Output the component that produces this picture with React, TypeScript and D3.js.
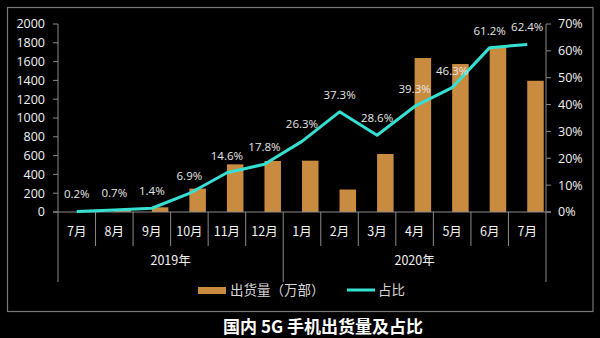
import React from "react";
import * as d3 from "d3";

const months = ["7月", "8月", "9月", "10月", "11月", "12月", "1月", "2月", "3月", "4月", "5月", "6月", "7月"];
const years = ["2019年", "2020年"];
const yearSpans = [6, 7];
const shipments = [5, 22, 50, 249, 507, 543, 546, 239, 617, 1638, 1574, 1751, 1396];
const shares = [0.2, 0.7, 1.4, 6.9, 14.6, 17.8, 26.3, 37.3, 28.6, 39.3, 46.3, 61.2, 62.4];
const leftTicks = [0, 200, 400, 600, 800, 1000, 1200, 1400, 1600, 1800, 2000];
const rightTicks = [0, 10, 20, 30, 40, 50, 60, 70];
const title = "国内 5G 手机出货量及占比";
const legendBar = "出货量（万部）";
const legendLine = "占比";

const W = 600, H = 338;
const left = 58, right = 546, top = 24, bottom = 212;
const FONT = "'Open Sans', 'Noto Sans CJK SC', sans-serif";
const CJK = "'Noto Sans CJK SC', sans-serif";
const AXIS = "#8a8a8a";
const BAR = "#c98b3f";
const LINE = "#35e0d2";

export default function App() {
  const x = d3.scaleBand<number>().domain(d3.range(months.length)).range([left, right]).padding(0);
  const bw = x.bandwidth();
  const yL = d3.scaleLinear().domain([0, 2000]).range([bottom, top]);
  const yR = d3.scaleLinear().domain([0, 70]).range([bottom, top]);
  const cx = (i: number) => (x(i) as number) + bw / 2;
  const line = d3.line<number>().x((_, i) => cx(i)).y((d) => yR(d));
  const barW = bw * 0.44;

  let acc = 0;
  const yearBounds = yearSpans.map((s) => {
    const start = acc;
    acc += s;
    return [start, acc];
  });

  return (
    <svg width={W} height={H} style={{ position: "absolute", left: 0, top: 0, background: "#000" }}>
      <rect x={0} y={0} width={W} height={H} fill="#000" />
      <rect x={7.5} y={7.5} width={585.5} height={304} fill="none" stroke="#777" strokeWidth={1.2} />

      {/* bars */}
      {shipments.map((v, i) => (
        <rect key={i} x={cx(i)} y={yL(v)} width={barW} height={bottom - yL(v)} fill={BAR} />
      ))}

      {/* left axis */}
      <line x1={left} x2={left} y1={top} y2={bottom} stroke={AXIS} />
      {leftTicks.map((t) => (
        <g key={t}>
          <line x1={left - 5} x2={left} y1={yL(t)} y2={yL(t)} stroke={AXIS} />
          <text x={45} y={yL(t)} dy="0.35em" textAnchor="end" fill="#f2f2f2" fontSize={12.5} fontFamily={FONT}>
            {t}
          </text>
        </g>
      ))}

      {/* right axis */}
      <line x1={right} x2={right} y1={top} y2={bottom} stroke={AXIS} />
      {rightTicks.map((t) => (
        <g key={t}>
          <line x1={right} x2={right + 5} y1={yR(t)} y2={yR(t)} stroke={AXIS} />
          <text x={558} y={yR(t)} dy="0.35em" textAnchor="start" fill="#f2f2f2" fontSize={12.5} fontFamily={FONT}>
            {t}%
          </text>
        </g>
      ))}

      {/* baseline and category separators */}
      <line x1={left - 5} x2={right + 5} y1={bottom} y2={bottom} stroke={AXIS} />
      {d3.range(months.length + 1).map((i) => {
        const xx = i < months.length ? (x(i) as number) : right;
        const isYear = [0, 6, 13].includes(i);
        return <line key={i} x1={xx} x2={xx} y1={bottom} y2={isYear ? 282 : 246} stroke={AXIS} />;
      })}
      {months.map((m, i) => (
        <text key={i} x={cx(i)} y={232} dy="0.35em" textAnchor="middle" fill="#f2f2f2" fontSize={12.5} fontFamily={CJK}>
          {m}
        </text>
      ))}
      {years.map((yv, k) => {
        const [s, e] = yearBounds[k];
        const mid = ((x(s) as number) + (e < months.length ? (x(e) as number) : right)) / 2;
        return (
          <text key={yv} x={mid} y={261} dy="0.35em" textAnchor="middle" fill="#f2f2f2" fontSize={12.5} fontFamily={CJK}>
            {yv}
          </text>
        );
      })}

      {/* share line */}
      <path d={line(shares) || ""} fill="none" stroke={LINE} strokeWidth={3} strokeLinejoin="round" />
      {shares.map((v, i) => (
        <text key={i} x={cx(i)} y={yR(v) - 17} dy="0.35em" textAnchor="middle" fill="#e6e6e6" fontSize={11.5} fontFamily={FONT}>
          {v.toFixed(1)}%
        </text>
      ))}

      {/* legend */}
      <rect x={198} y={287} width={28} height={7} fill={BAR} />
      <text x={230} y={290} dy="0.35em" fill="#d8d8d8" fontSize={13.5} fontFamily={CJK}>
        {legendBar}
      </text>
      <line x1={347} x2={375} y1={290} y2={290} stroke={LINE} strokeWidth={3} />
      <text x={378} y={290} dy="0.35em" fill="#d8d8d8" fontSize={13.5} fontFamily={CJK}>
        {legendLine}
      </text>

      {/* title */}
      <text x={323} y={327} dy="0.35em" textAnchor="middle" fill="#ffffff" fontSize={17} fontWeight="bold" fontFamily={CJK}>
        {title}
      </text>
    </svg>
  );
}
